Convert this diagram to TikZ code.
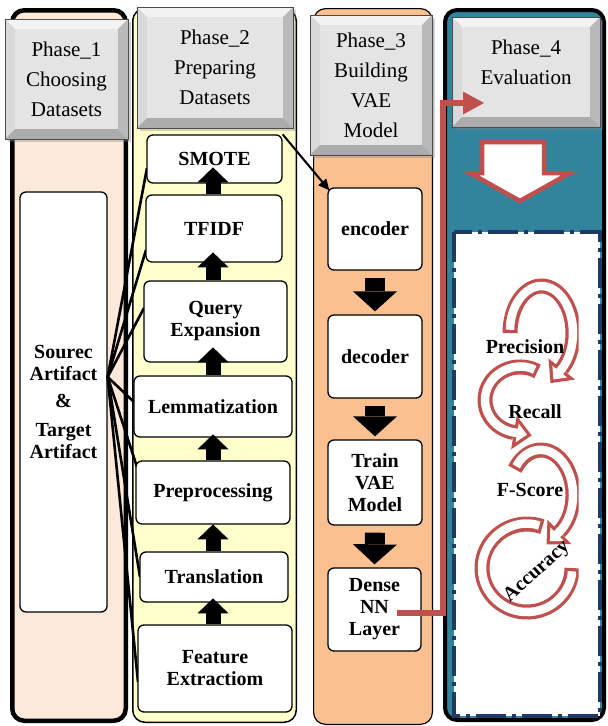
\documentclass[tikz,border=0pt]{standalone}
\usepackage{fontspec}
\setmainfont{Liberation Serif}
\usetikzlibrary{arrows.meta,calc,decorations.markings,shadows}
\definecolor{pone}{HTML}{FDE9D9}
\definecolor{ptwo}{HTML}{FFFFCC}
\definecolor{pthree}{HTML}{FAC090}
\definecolor{pfour}{HTML}{31849B}
\definecolor{arrred}{HTML}{C0504D}
\definecolor{navyd}{HTML}{1F3864}
\definecolor{hface}{HTML}{E4E4E4}
\newcommand\myhdrfont{\fontsize{21}{30}\selectfont}
\newcommand\myboxfont{\bfseries\fontsize{20}{22}\selectfont}
\tikzset{
  col/.style={rounded corners=12pt, draw=black},
  hdr/.style={fill=hface, draw=gray!60!black, line width=0.6pt, font=\myhdrfont, align=center, inner sep=0pt,
    drop shadow={shadow xshift=3pt, shadow yshift=-3pt, opacity=0.35},
    path picture={
      \path (path picture bounding box.north west) coordinate (pnw)
            (path picture bounding box.north east) coordinate (pne)
            (path picture bounding box.south west) coordinate (psw)
            (path picture bounding box.south east) coordinate (pse);
      \fill[white!90!gray] (pnw) -- (pne) -- ($(pne)+(-10,10)$) -- ($(pnw)+(10,10)$) -- cycle;
      \fill[gray!30] (pnw) -- ($(pnw)+(10,10)$) -- ($(psw)+(10,-10)$) -- (psw) -- cycle;
      \fill[gray!55] (pne) -- ($(pne)+(-10,10)$) -- ($(pse)+(-10,-10)$) -- (pse) -- cycle;
      \fill[gray!65] (psw) -- ($(psw)+(10,-10)$) -- ($(pse)+(-10,-10)$) -- (pse) -- cycle;
    }},
  wbox/.style={draw=black, line width=1.3pt, fill=white, rounded corners=6pt, font=\myboxfont, align=center, inner sep=2pt},
  fanline/.style={draw=black, line width=2.6pt},
  upblk/.style={line width=15pt, -{Triangle[length=15pt 0 0, width=31pt 0 0, line width=0pt 0 0]}},
  dnblk/.style={line width=20pt, -{Triangle[length=20pt 0 0, width=44pt 0 0, line width=0pt 0 0]}},
  redconn/.style={draw=arrred, line width=6pt, -{Triangle[length=21pt 0 0, width=23pt 0 0, line width=0pt 0 0]}},
  bo/.style={draw=arrred, line width=15pt},
  bi/.style={draw=white, line width=8.5pt, shorten <=3.25pt},
  ho/.style={postaction={decorate, decoration={markings, mark=at position 1 with {\fill[arrred] (0,-17) -- (18,0) -- (0,17) -- cycle;}}}},
  hi/.style={postaction={decorate, decoration={markings, mark=at position 1 with {\fill[white] (-0.5,-4.25) -- (3.25,-4.25) -- (3.25,-9.5) -- (13.3,0) -- (3.25,9.5) -- (3.25,4.25) -- (-0.5,4.25) -- cycle;}}}},
  mlabel/.style={font=\myboxfont, inner sep=1pt}
}
\begin{document}
\begin{tikzpicture}[x=1pt,y=-1pt]
\useasboundingbox (0,0) rectangle (608,726);
% columns
\draw[col, fill=pone, line width=4.5pt] (12.25,10.25) rectangle (125.75,720.75);
\draw[col, fill=ptwo, line width=1.5pt] (132.75,8.75) rectangle (296.25,722.25);
\draw[col, fill=pthree, line width=1.2pt] (313.6,8.6) rectangle (432.4,724.4);
\draw[col, fill=pfour, line width=4pt] (445,10) rectangle (604,720);
% phase 4 inner panel
\draw[navyd, line width=3.5pt, dash pattern=on 30pt off 6pt on 4pt off 6pt, fill=white] (454,232) rectangle (600,716);
\draw[arrred, line width=4.5pt, fill=white, line join=miter] (482,142) -- (544,142) -- (544,173) -- (570,173) -- (520,201) -- (470,173) -- (482,173) -- cycle;
% headers
\node[hdr, minimum width=123pt, minimum height=120pt] (h1) at (66.5,79) {Phase\_1\\Choosing\\Datasets};
\node[hdr, minimum width=156pt, minimum height=121pt] (h2) at (215,67.5) {Phase\_2\\Preparing\\Datasets};
\node[hdr, minimum width=122pt, minimum height=140pt] (h3) at (371,85) {Phase\_3\\Building\\VAE\\Model};
\node[hdr, minimum width=148pt, minimum height=110pt] (h4) at (526,72) {};
\node[font=\myhdrfont, align=center, inner sep=0pt] (h4t) at (526,62) {Phase\_4\\Evaluation};
% source box
\node[wbox, minimum width=87pt, minimum height=420pt] (src) at (63.5,402) {Sourec\\Artifact\\[5pt]\&\\[7pt]Target\\Artifact};
\coordinate (fan) at ($(src.east)+(0,-25)$);
% fan lines
\draw[fanline] (fan) -- (147,168);
\draw[fanline] (fan) -- (146,250);
\draw[fanline] (fan) -- (144,308);
\draw[fanline] (fan) -- (134,402);
\draw[fanline] (fan) -- (137,467);
\draw[fanline] (fan) -- (140,577);
\draw[fanline] (fan) -- (138,682);
% phase 2 boxes
\node[wbox, minimum width=135pt, minimum height=48pt] (smote) at (214.5,159) {SMOTE};
\node[wbox, minimum width=136pt, minimum height=67pt] (tfidf) at (214,228.5) {TFIDF};
\node[wbox, minimum width=143pt, minimum height=81pt] (query) at (215.5,321.5) {Query\\Expansion};
\node[wbox, minimum width=158pt, minimum height=61pt] (lemma) at (213,406.5) {Lemmatization};
\node[wbox, minimum width=154pt, minimum height=63pt] (prep) at (213,492.5) {Preprocessing};
\node[wbox, minimum width=148pt, minimum height=50pt] (trans) at (214,577) {Translation};
\node[wbox, minimum width=154pt, minimum height=87pt] (feat) at (215,668.5) {Feature\\Extractiom};
% phase 3 boxes
\node[wbox, minimum width=94pt, minimum height=82pt] (enc) at (375,229) {encoder};
\node[wbox, minimum width=94pt, minimum height=83pt] (dec) at (375,356.5) {decoder};
\node[wbox, minimum width=94pt, minimum height=85pt] (train) at (375,482.5) {Train\\VAE\\Model};
\node[wbox, minimum width=93pt, minimum height=83pt] (dense) at (374.5,609.5) {Dense\\NN\\Layer};
% up arrows phase 2
\draw[upblk] ([xshift=-2pt]feat.north) -- ++(0,-26);
\draw[upblk] ([xshift=-1pt]trans.north) -- ++(0,-27);
\draw[upblk] (prep.north) -- ++(0,-26);
\draw[upblk] (lemma.north) -- ++(0,-28);
\draw[upblk] ([xshift=-2.5pt]query.north) -- ++(0,-28);
\draw[upblk] ([xshift=-1pt]tfidf.north) -- ++(0,-27);
% down arrows phase 3
\draw[dnblk] ([yshift=-7pt]enc.south) -- ([yshift=3pt]dec.north);
\draw[dnblk] ([yshift=-7pt]dec.south) -- ([yshift=3pt]train.north);
\draw[dnblk] ([yshift=-7pt]train.south) -- ([yshift=3pt]dense.north);
% smote to encoder
\draw[line width=2pt, -{Triangle[length=11pt 0 0, width=10pt 0 0]}] (smote.north east) -- ([shift={(2,3)}]enc.north west);
% curved evaluation arrows
\begin{scope}
\clip (454,232) rectangle (578.5,714);
\draw[bo, ho] (510,333) arc[start angle=180, end angle=410, x radius=31.5, y radius=47];
\draw[bi, hi] (510,333) arc[start angle=180, end angle=410, x radius=31.5, y radius=47];
\draw[bo, ho] (537.5,371.4) arc[start angle=300, end angle=100, x radius=35, y radius=33];
\draw[bi, hi] (537.5,371.4) arc[start angle=300, end angle=100, x radius=35, y radius=33];
\draw[bo, ho] (514.8,469.2) arc[start angle=215, end angle=415, x radius=32, y radius=45];
\draw[bi, hi] (514.8,469.2) arc[start angle=215, end angle=415, x radius=32, y radius=45];
\draw[bo] (542.4,526.7) arc[start angle=290, end angle=0, x radius=45, y radius=44];
\draw[bi, shorten >=3.25pt] (542.4,526.7) arc[start angle=290, end angle=0, x radius=45, y radius=44];
\end{scope}
\node[mlabel] (prec) at (525,347) {Precision};
\node[mlabel] (rec) at (535,412) {Recall};
\node[mlabel] (fsc) at (530,490) {F-Score};
\node[mlabel, rotate=42] (acc) at (537,572) {Accuracy};
% red connector
\coordinate (rs) at ($(dense.center)+(22,3)$);
\coordinate (rt) at (484,103);
\draw[black, opacity=0.25, line width=6pt, shift={(2,2)}] (rs) -- ++(46,0) |- ($(rt)+(-20,0)$);
\draw[redconn] (rs) -- ++(46,0) |- (rt);
\end{tikzpicture}
\end{document}
